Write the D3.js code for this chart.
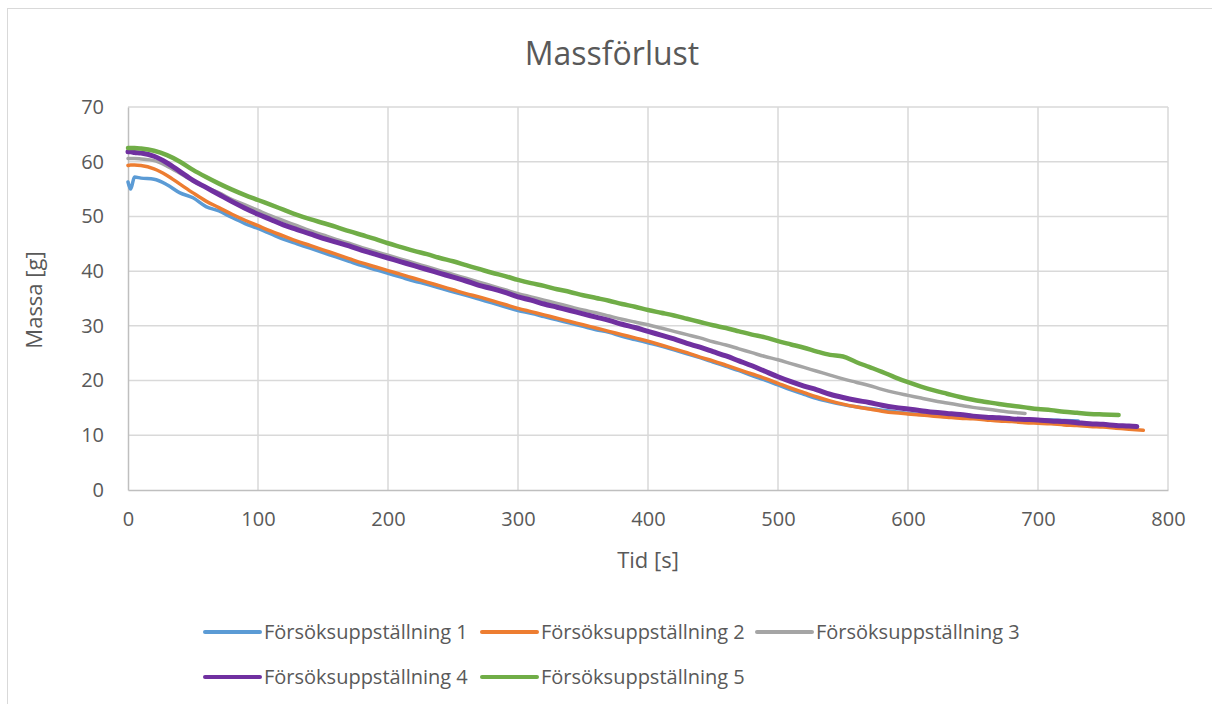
<!DOCTYPE html>
<html>
<head>
<meta charset="utf-8">
<script src="https://cdn.jsdelivr.net/npm/d3@7"></script>
<style>
  body { margin: 0; background: #fff; }
  svg text { font-family: "Open Sans", sans-serif; fill: #595959; }
</style>
</head>
<body>
<div class="container"></div>
<script>
// tid i sekunder (sista punkten i varje serie flyttas till slutTid)
const tid = [0, 2, 5, 10, 20, 30, 40, 50, 60, 70, 80, 90, 100, 110, 120, 130, 140, 150, 160, 170, 180, 190,
  200, 210, 220, 230, 240, 250, 260, 270, 280, 290, 300, 310, 320, 330, 340, 350, 360, 370, 380, 390,
  400, 410, 420, 430, 440, 450, 460, 470, 480, 490, 500, 510, 520, 530, 540, 550, 560, 570, 580, 590,
  600, 610, 620, 630, 640, 650, 660, 670, 680, 690, 700, 710, 720, 730, 740, 750, 760, 770, 780];

const serieNamn = ['Försöksuppställning 1', 'Försöksuppställning 2', 'Försöksuppställning 3',
  'Försöksuppställning 4', 'Försöksuppställning 5'];
const slutTid = [731, 781, 690, 776, 762];

const massa1 = [56.3, 55.0, 57.2, 57.0, 56.8, 55.8, 54.3, 53.4, 51.8, 51.0, 49.8, 48.7, 47.8, 46.8, 45.8,
  45.0, 44.2, 43.4, 42.6, 41.8, 41.0, 40.3, 39.6, 38.9, 38.2, 37.6, 36.9, 36.2, 35.6, 34.9, 34.2, 33.5,
  32.8, 32.3, 31.7, 31.1, 30.5, 29.9, 29.3, 28.8, 28.1, 27.5, 26.9, 26.3, 25.6, 24.9, 24.2, 23.4, 22.6,
  21.8, 20.9, 20.1, 19.2, 18.3, 17.5, 16.7, 16.1, 15.6, 15.2, 14.9, 14.6, 14.3, 14.0, 13.8, 13.6, 13.4,
  13.3, 13.2, 13.1, 13.0, 12.9, 12.9, 12.8, 12.8, 12.7, 12.6];

const massa2 = [59.3, 59.4, 59.4, 59.3, 58.7, 57.5, 55.9, 54.3, 52.8, 51.6, 50.4, 49.3, 48.3, 47.3, 46.4,
  45.5, 44.7, 43.9, 43.1, 42.3, 41.5, 40.8, 40.1, 39.4, 38.7, 38.0, 37.3, 36.6, 35.9, 35.3, 34.6, 33.9,
  33.2, 32.6, 32.0, 31.4, 30.8, 30.2, 29.6, 29.0, 28.4, 27.8, 27.2, 26.5, 25.8, 25.1, 24.3, 23.6, 22.8,
  22.0, 21.2, 20.4, 19.5, 18.6, 17.8, 17.0, 16.3, 15.7, 15.2, 14.8, 14.4, 14.1, 13.9, 13.7, 13.5, 13.3,
  13.1, 13.0, 12.8, 12.6, 12.5, 12.3, 12.2, 12.1, 11.9, 11.8, 11.6, 11.5, 11.3, 11.1, 10.9];

const massa3 = [60.6, 60.6, 60.6, 60.5, 60.2, 59.2, 57.9, 56.5, 55.3, 54.3, 53.1, 52.1, 51.1, 50.1, 49.2,
  48.3, 47.4, 46.6, 45.8, 45.1, 44.3, 43.6, 42.9, 42.2, 41.5, 40.8, 40.1, 39.4, 38.7, 38.0, 37.3, 36.6,
  35.9, 35.3, 34.7, 34.1, 33.5, 32.9, 32.4, 31.8, 31.2, 30.7, 30.2, 29.6, 29.0, 28.4, 27.8, 27.1, 26.5,
  25.8, 25.1, 24.4, 23.8, 23.1, 22.4, 21.7, 21.0, 20.3, 19.7, 19.1, 18.4, 17.8, 17.3, 16.8, 16.3, 15.9,
  15.5, 15.1, 14.8, 14.5, 14.2, 14.0];

const massa4 = [61.8, 61.8, 61.7, 61.6, 61.0, 59.8, 58.2, 56.6, 55.3, 54.0, 52.7, 51.5, 50.4, 49.4, 48.4,
  47.6, 46.8, 46.0, 45.3, 44.6, 43.8, 43.1, 42.4, 41.7, 41.0, 40.3, 39.6, 38.9, 38.2, 37.4, 36.8, 36.1,
  35.3, 34.7, 34.0, 33.4, 32.8, 32.2, 31.6, 31.0, 30.3, 29.7, 29.0, 28.3, 27.6, 26.8, 26.1, 25.3, 24.5,
  23.6, 22.7, 21.7, 20.7, 19.8, 19.0, 18.3, 17.5, 16.9, 16.4, 16.0, 15.5, 15.1, 14.8, 14.5, 14.2, 14.0,
  13.8, 13.5, 13.3, 13.2, 13.0, 12.9, 12.8, 12.6, 12.5, 12.3, 12.1, 12.0, 11.8, 11.7, 11.6];

const massa5 = [62.5, 62.5, 62.5, 62.4, 62.0, 61.2, 60.0, 58.5, 57.2, 56.0, 54.9, 53.9, 53.0, 52.1, 51.2,
  50.3, 49.5, 48.8, 48.1, 47.3, 46.6, 45.9, 45.1, 44.4, 43.7, 43.1, 42.4, 41.8, 41.1, 40.4, 39.7, 39.1,
  38.4, 37.8, 37.3, 36.7, 36.2, 35.6, 35.1, 34.6, 34.0, 33.5, 32.9, 32.4, 31.9, 31.3, 30.7, 30.1, 29.6,
  29.0, 28.4, 27.9, 27.2, 26.6, 26.0, 25.3, 24.7, 24.4, 23.4, 22.5, 21.6, 20.6, 19.7, 18.9, 18.2, 17.6,
  17.0, 16.5, 16.1, 15.7, 15.4, 15.1, 14.8, 14.6, 14.3, 14.1, 13.9, 13.8, 13.7];

const xTicks = [0, 100, 200, 300, 400, 500, 600, 700, 800];
const yTicks = [0, 10, 20, 30, 40, 50, 60, 70];

const farger = ['#5B9BD5', '#ED7D31', '#A5A5A5', '#7030A0', '#70AD47'];
const bredd = [3.5, 3.5, 3.5, 5, 4.5];

const drawChart = () => {
    const w = 1212, h = 704,
        plot = { left: 128, right: 1168, top: 107, bottom: 490 };

    const xScale = d3.scaleLinear().domain([0, 800]).range([plot.left, plot.right]);
    const yScale = d3.scaleLinear().domain([0, 70]).range([plot.bottom, plot.top]);

    const svg = d3.select("div.container")
        .append("svg")
        .attr("width", w)
        .attr("height", h);

    // ram runt diagrammet
    svg.append("rect")
        .attr("x", 7.5).attr("y", 8.5)
        .attr("width", 1230).attr("height", 730)
        .attr("fill", "none")
        .attr("stroke", "#d9d9d9");

    svg.append("text")
        .attr("x", 612).attr("y", 65)
        .attr("text-anchor", "middle")
        .style("font-size", "32px")
        .text("Massförlust");

    // rutnät
    svg.append("g").selectAll("line")
        .data(yTicks.slice(1))
        .enter().append("line")
        .attr("x1", plot.left).attr("x2", plot.right)
        .attr("y1", d => yScale(d)).attr("y2", d => yScale(d))
        .attr("stroke", "#d9d9d9").attr("stroke-width", 1.5);

    svg.append("g").selectAll("line")
        .data(xTicks.slice(1))
        .enter().append("line")
        .attr("y1", plot.top).attr("y2", plot.bottom)
        .attr("x1", d => xScale(d)).attr("x2", d => xScale(d))
        .attr("stroke", "#d9d9d9").attr("stroke-width", 1.5);

    // axlar
    const xAxis = d3.axisBottom(xScale).tickValues(xTicks).tickSize(0).tickPadding(22);
    const yAxis = d3.axisLeft(yScale).tickValues(yTicks).tickSize(0).tickPadding(24);

    const gx = svg.append("g")
        .attr("id", "x-axis")
        .attr("transform", "translate(0," + plot.bottom + ")")
        .call(xAxis);
    const gy = svg.append("g")
        .attr("id", "y-axis")
        .attr("transform", "translate(" + plot.left + ",0)")
        .call(yAxis);

    [gx, gy].forEach(g => {
        g.select(".domain").attr("stroke", "#bfbfbf").attr("stroke-width", 1.5);
        g.selectAll("text").style("font-size", "20px").attr("fill", "#595959");
    });

    svg.append("text")
        .attr("x", 648).attr("y", 568)
        .attr("text-anchor", "middle")
        .style("font-size", "22px")
        .text("Tid [s]");

    svg.append("text")
        .attr("transform", "translate(42,300) rotate(-90)")
        .attr("text-anchor", "middle")
        .style("font-size", "22px")
        .text("Massa [g]");

    // serier
    const serier = [massa1, massa2, massa3, massa4, massa5].map((vals, s) =>
        vals.map((v, i) => [i === vals.length - 1 ? slutTid[s] : tid[i], v]));

    const line = d3.line()
        .curve(d3.curveMonotoneX)
        .x(d => xScale(d[0]))
        .y(d => yScale(d[1]));

    svg.append("g").selectAll("path")
        .data(serier)
        .enter().append("path")
        .attr("d", line)
        .attr("fill", "none")
        .attr("stroke", (d, i) => farger[i])
        .attr("stroke-width", (d, i) => bredd[i])
        .attr("stroke-linejoin", "round")
        .attr("stroke-linecap", "round");

    // legend
    const legendPos = [[205, 632], [482, 632], [757, 632], [205, 677], [482, 677]];
    const lg = svg.append("g").selectAll("g")
        .data(serieNamn)
        .enter().append("g")
        .attr("transform", (d, i) => "translate(" + legendPos[i][0] + "," + legendPos[i][1] + ")");

    lg.append("line")
        .attr("x1", 0).attr("x2", 55)
        .attr("stroke", (d, i) => farger[i])
        .attr("stroke-width", 4)
        .attr("stroke-linecap", "round");

    lg.append("text")
        .attr("x", 59).attr("dy", "0.35em")
        .style("font-size", "20px")
        .text(d => d);
};

drawChart();
</script>
</body>
</html>
